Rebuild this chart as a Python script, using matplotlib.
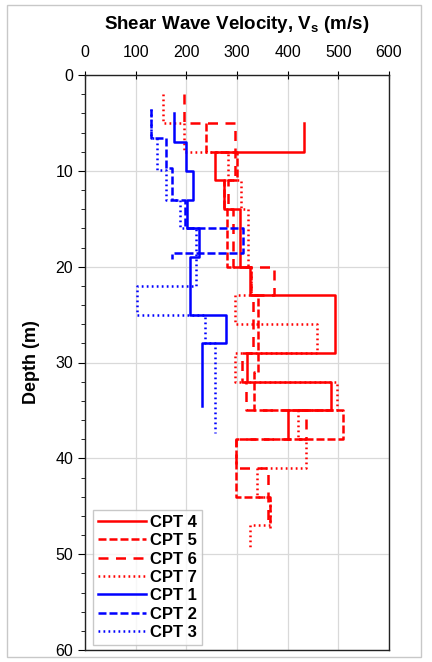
import numpy as np
import matplotlib.pyplot as plt
from matplotlib.patches import Rectangle

plt.rcParams['font.family'] = ['Liberation Sans', 'DejaVu Sans']

# layer boundaries (m) and shear wave velocity of each layer (m/s)
cpt4_d = [5, 8, 11, 14, 20, 23, 29, 32, 35, 38]
cpt4_v = [432, 256, 274, 305, 325, 493, 319, 485, 400]
cpt5_d = [5, 8, 11, 14, 20, 23, 31, 35, 38, 44, 47.3]
cpt5_v = [239, 300, 275, 280, 327, 341, 333, 509, 299, 366]
cpt6_d = [2, 5, 11, 14, 20, 23, 29, 32, 35, 38, 41, 47]
cpt6_v = [195, 296, 282, 292, 373, 332, 309, 318, 436, 299, 361]
cpt7_d = [2, 5, 8, 11, 14, 20, 23, 26, 29, 32, 35, 38, 41, 44, 47, 49.6]
cpt7_v = [153, 195, 282, 308, 322, 328, 297, 457, 296, 497, 420, 436, 340, 365, 325]
cpt1_d = [4, 7, 10, 13, 16, 19, 25, 28, 34.5]
cpt1_v = [176, 199, 213, 202, 225, 207, 279, 230]
cpt2_d = [3.5, 6.6, 9.7, 13, 16, 18.6, 19.2]
cpt2_v = [130, 160, 171, 197, 312, 171]
cpt3_d = [3.5, 6.6, 9.9, 13, 16, 22, 25, 28, 37.4]
cpt3_v = [131, 142, 160, 187, 220, 103, 237, 256]

labels = ['CPT 4', 'CPT 5', 'CPT 6', 'CPT 7', 'CPT 1', 'CPT 2', 'CPT 3']
profiles = [(cpt4_d, cpt4_v), (cpt5_d, cpt5_v), (cpt6_d, cpt6_v), (cpt7_d, cpt7_v),
            (cpt1_d, cpt1_v), (cpt2_d, cpt2_v), (cpt3_d, cpt3_v)]
colors = ['#ff0000'] * 4 + ['#0000ff'] * 3
dashes = [None, (3.2, 1.2), (4, 3), (0.7, 1.3), None, (3.2, 1.2), (0.7, 1.3)]


def steps(d, v):
    d = np.asarray(d, float)
    x = np.repeat(v, 2)
    y = np.column_stack([d[:-1], d[1:]]).ravel()
    return x, y


fig = plt.figure(figsize=(4.32, 6.62), dpi=100)
ax = fig.add_axes([85/432, 1-650/662, (389-85)/432, (650-75)/662])

for (d, v), lab, c, ds in zip(profiles, labels, colors, dashes):
    x, y = steps(d, v)
    line, = ax.plot(x, y, color=c, lw=1.8, label=lab)
    if ds is not None:
        line.set_dashes(ds)

ax.set_xlim(0, 600)
ax.set_ylim(60, 0)
ax.set_xticks(np.arange(0, 601, 100))
ax.set_yticks(np.arange(0, 61, 10))
ax.set_yticks(np.arange(0, 61, 2), minor=True)
ax.xaxis.tick_top()
ax.xaxis.set_label_position('top')
ax.tick_params(axis='x', which='major', direction='inout', length=6, labelsize=11.5, pad=8)
ax.tick_params(axis='y', which='major', direction='out', length=5, labelsize=11.5)
ax.tick_params(axis='y', which='minor', direction='out', length=3)
ax.grid(True, color='#d9d9d9', lw=0.9)
ax.set_axisbelow(True)
for s in ax.spines.values():
    s.set_color('#222222')
    s.set_linewidth(1.0)

ax.set_xlabel('Shear Wave Velocity, V$_\\mathregular{s}$ (m/s)', fontsize=13.5,
              fontweight='bold', labelpad=11)
ax.set_ylabel('Depth (m)', fontsize=13, fontweight='bold', labelpad=11)

leg = ax.legend(loc='lower left', bbox_to_anchor=(0.015, 0.003), fancybox=False,
                frameon=True, handlelength=2.9, handletextpad=0.25,
                labelspacing=0.2, borderpad=0.3, borderaxespad=0.2,
                prop={'weight': 'bold', 'size': 12})
leg.get_frame().set_edgecolor('#bbbbbb')
leg.get_frame().set_linewidth(1.0)
for h in leg.get_lines():
    h.set_linewidth(1.8)

fig.patches.append(Rectangle((7/432, 5/662), (421-7)/432, (657-5)/662,
                             transform=fig.transFigure, fill=False,
                             edgecolor='#c8c8c8', lw=1))

plt.savefig('out.png', dpi=100)
